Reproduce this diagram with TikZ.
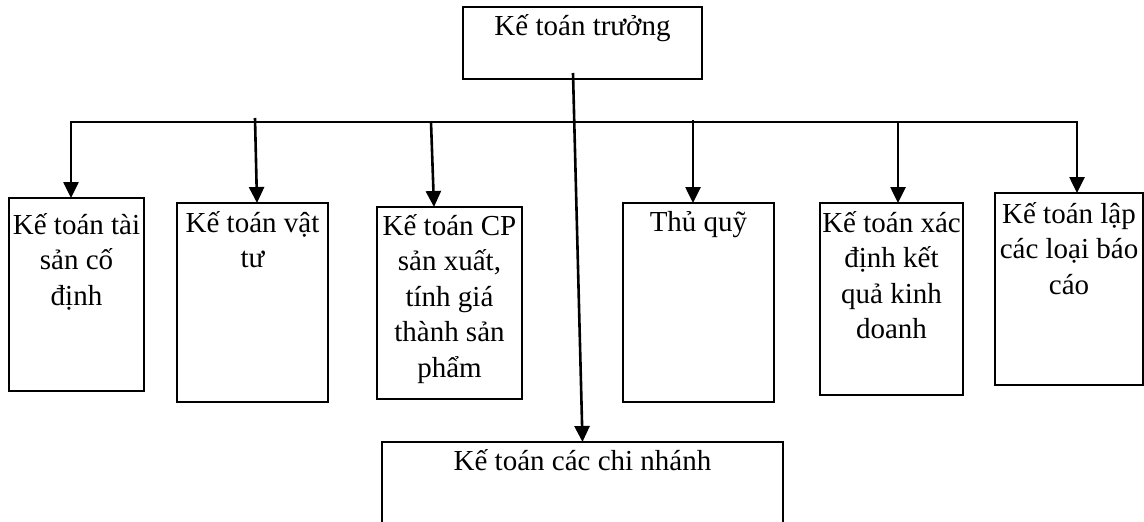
\documentclass[tikz,border=0pt]{standalone}
\usepackage{fontspec}
\setmainfont{Liberation Serif}
\usetikzlibrary{arrows.meta}
\newcommand\fl{\rule{0pt}{28pt}}
\tikzset{
  box/.style={draw=black, line width=2pt, inner sep=0pt, outer sep=0pt, rectangle},
  lbl/.style={anchor=north, inner sep=0pt, align=center, font={\fontsize{29}{35.5}\selectfont}},
  conn/.style={draw=black, line width=2.6pt, line join=miter},
  tip/.tip={Triangle[length=16pt,width=15pt]},
  arr/.style={conn, -tip}
}
\begin{document}
\begin{tikzpicture}[x=1pt,y=-1pt]
\useasboundingbox (0,0) rectangle (1144,522);
\clip (0,0) rectangle (1144,522);
\fill[white] (0,0) rectangle (1144,522);
% boxes
\node[box, minimum width=239pt, minimum height=72pt] (top) at (582.5,43) {};
\node[box, minimum width=135pt, minimum height=193pt] (b1) at (76.5,294.5) {};
\node[box, minimum width=151pt, minimum height=199pt] (b2) at (252.5,302.5) {};
\node[box, minimum width=145pt, minimum height=192pt] (b3) at (449.5,303) {};
\node[box, minimum width=151pt, minimum height=199pt] (b4) at (698.5,302.5) {};
\node[box, minimum width=143pt, minimum height=192pt] (b5) at (891.5,299) {};
\node[box, minimum width=148pt, minimum height=192pt] (b6) at (1069,289) {};
\node[box, minimum width=401pt, minimum height=110pt] (bot) at (582.5,497) {};
% labels
\node[lbl] (ttop) at (582.5,7) {\fl Kế toán trưởng};
\node[lbl] (t1) at (76.5,206) {\fl Kế toán tài\\sản cố\\định};
\node[lbl] (t2) at (252.5,204) {\fl Kế toán vật\\tư};
\node[lbl] (t3) at (449.5,207) {\fl Kế toán CP\\sản xuất,\\tính giá\\thành sản\\phẩm};
\node[lbl] (t4) at (698.5,203) {\fl Thủ quỹ};
\node[lbl] (t5) at (891.5,204) {\fl Kế toán xác\\định kết\\quả kinh\\doanh};
\node[lbl] (t6) at (1069,195) {\fl Kế toán lập\\các loại báo\\cáo};
\node[lbl] (tbot) at (582.5,442) {\fl Kế toán các chi nhánh};
% connectors
\coordinate (s0) at (573,73);
\coordinate (busL) at (71,122);
\coordinate (busR) at (1077,122);
\coordinate (s2) at (255,118);
\coordinate (s3) at (431,122);
\coordinate (s4) at (693,120);
\coordinate (s5) at (898,122);
\draw[conn, tip-tip] (busL |- b1.north) -- (busL) -- (busR) -- (busR |- b6.north);
\draw[arr] (s2) -- ([xshift=4.5pt]b2.north);
\draw[arr] (s3) -- ([xshift=-15.5pt]b3.north);
\draw[arr] (s4) -- ([xshift=-5.5pt]b4.north);
\draw[arr] (s5) -- ([xshift=6.5pt]b5.north);
\draw[arr] (s0) -- (bot.north);
\end{tikzpicture}
\end{document}
